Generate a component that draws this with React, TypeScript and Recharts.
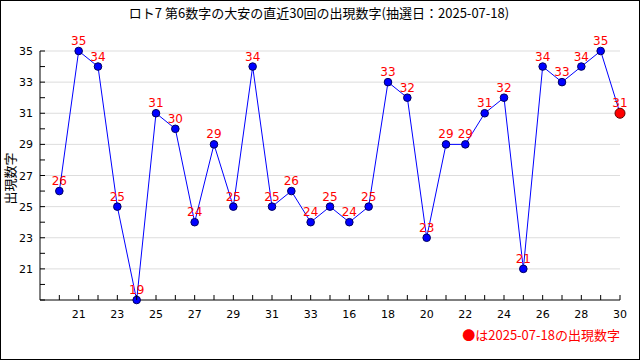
import { LineChart, Line, XAxis, YAxis, ReferenceLine, LabelList } from "recharts";

// category labels under each draw (only every other one is printed)
const drawLabels = [
  "20", "21", "22", "23", "24", "25", "26", "27", "28", "29",
  "30", "31", "32", "33", "15", "16", "17", "18", "19", "20",
  "21", "22", "23", "24", "25", "26", "27", "28", "29", "30",
];
const numbers = [
  26, 35, 34, 25, 19, 31, 30, 24, 29, 25,
  34, 25, 26, 24, 25, 24, 25, 33, 32, 23,
  29, 29, 31, 32, 21, 34, 33, 34, 35, 31,
];
const yTicks = [19, 20, 21, 22, 23, 24, 25, 26, 27, 28, 29, 30, 31, 32, 33, 34, 35];
const gridValues = [21, 23, 25, 27, 29, 31, 33, 35];

const title = "ロト7 第6数字の大安の直近30回の出現数字(抽選日：2025-07-18)";
const yTitle = "出現数字";
const legendText = "●は2025-07-18の出現数字";

const data = numbers.map((v, i) => ({ idx: i, value: v }));
const xTicks = data.map((d) => d.idx);

const tickFont = "'DejaVu Sans', sans-serif";

const XTick = (props: any) => {
  const { x, y, payload } = props;
  const i = payload.value;
  return (
    <g>
      <line x1={x} y1={y} x2={x} y2={y - 5} stroke="#000" />
      {i % 2 === 1 && (
        <text x={x} y={y + 18} textAnchor="middle" fontSize={11} fontFamily={tickFont} fill="#000">
          {drawLabels[i]}
        </text>
      )}
    </g>
  );
};

const YTick = (props: any) => {
  const { x, y, payload } = props;
  const v = payload.value;
  return (
    <g>
      <line x1={x} y1={y} x2={x + 5} y2={y} stroke="#000" />
      {v % 2 === 1 && v !== 19 && (
        <text x={x - 7} y={y + 4} textAnchor="end" fontSize={11} fontFamily={tickFont} fill="#000">
          {v}
        </text>
      )}
    </g>
  );
};

const Dot = (props: any) => {
  const { cx, cy, index } = props;
  const last = index === numbers.length - 1;
  return (
    <circle
      key={index}
      cx={cx}
      cy={cy}
      r={last ? 5 : 3.8}
      fill={last ? "#ff0000" : "#0000ff"}
      stroke={last ? "#600000" : "#000060"}
      strokeWidth={1}
    />
  );
};

export default function App() {
  return (
    <div
      style={{
        position: "absolute",
        left: 0,
        top: 0,
        width: 640,
        height: 360,
        boxSizing: "border-box",
        border: "1px solid #000",
        background: "#fff",
      }}
    >
      <div
        style={{
          position: "absolute",
          left: 0,
          top: 3,
          width: 636,
          textAlign: "center",
          fontFamily: "'Noto Sans CJK JP', sans-serif",
          fontSize: 13,
          lineHeight: "18px",
        }}
      >
        {title}
      </div>
      <div
        style={{
          position: "absolute",
          left: -2,
          top: 168,
          width: 20,
          transform: "rotate(-90deg)",
          transformOrigin: "center",
          fontFamily: "'Noto Sans CJK JP', sans-serif",
          fontSize: 13,
          whiteSpace: "nowrap",
          display: "flex",
          justifyContent: "center",
        }}
      >
        {yTitle}
      </div>
      <div
        style={{
          position: "absolute",
          right: 19,
          top: 325,
          color: "#ff0000",
          fontFamily: "'Noto Sans CJK JP', sans-serif",
          fontSize: 13,
          lineHeight: "18px",
        }}
      >
        {legendText}
      </div>
      <div style={{ position: "absolute", left: -1, top: -1 }}>
        <LineChart
          width={640}
          height={360}
          data={data}
          margin={{ top: 51, right: 20, left: 0, bottom: 0 }}
        >
          {gridValues.map((g) => (
            <ReferenceLine key={g} y={g} stroke="#dddddd" strokeWidth={1} />
          ))}
          <XAxis
            dataKey="idx"
            type="number"
            domain={[-1, 29]}
            ticks={xTicks}
            interval={0}
            height={60}
            tickSize={0}
            tickMargin={0}
            tickLine={false}
            tick={<XTick />}
            axisLine={{ stroke: "#000" }}
          />
          <YAxis
            type="number"
            domain={[19, 35]}
            ticks={yTicks}
            interval={0}
            width={40}
            tickSize={0}
            tickMargin={0}
            tickLine={false}
            tick={<YTick />}
            axisLine={{ stroke: "#000" }}
          />
          <Line
            type="linear"
            dataKey="value"
            stroke="#0000ff"
            strokeWidth={1}
            dot={<Dot />}
            activeDot={false}
            isAnimationActive={false}
          >
            <LabelList
              dataKey="value"
              position="top"
              offset={6}
              fill="#ff0000"
              fontSize={12}
              fontFamily={tickFont}
            />
          </Line>
        </LineChart>
      </div>
    </div>
  );
}
